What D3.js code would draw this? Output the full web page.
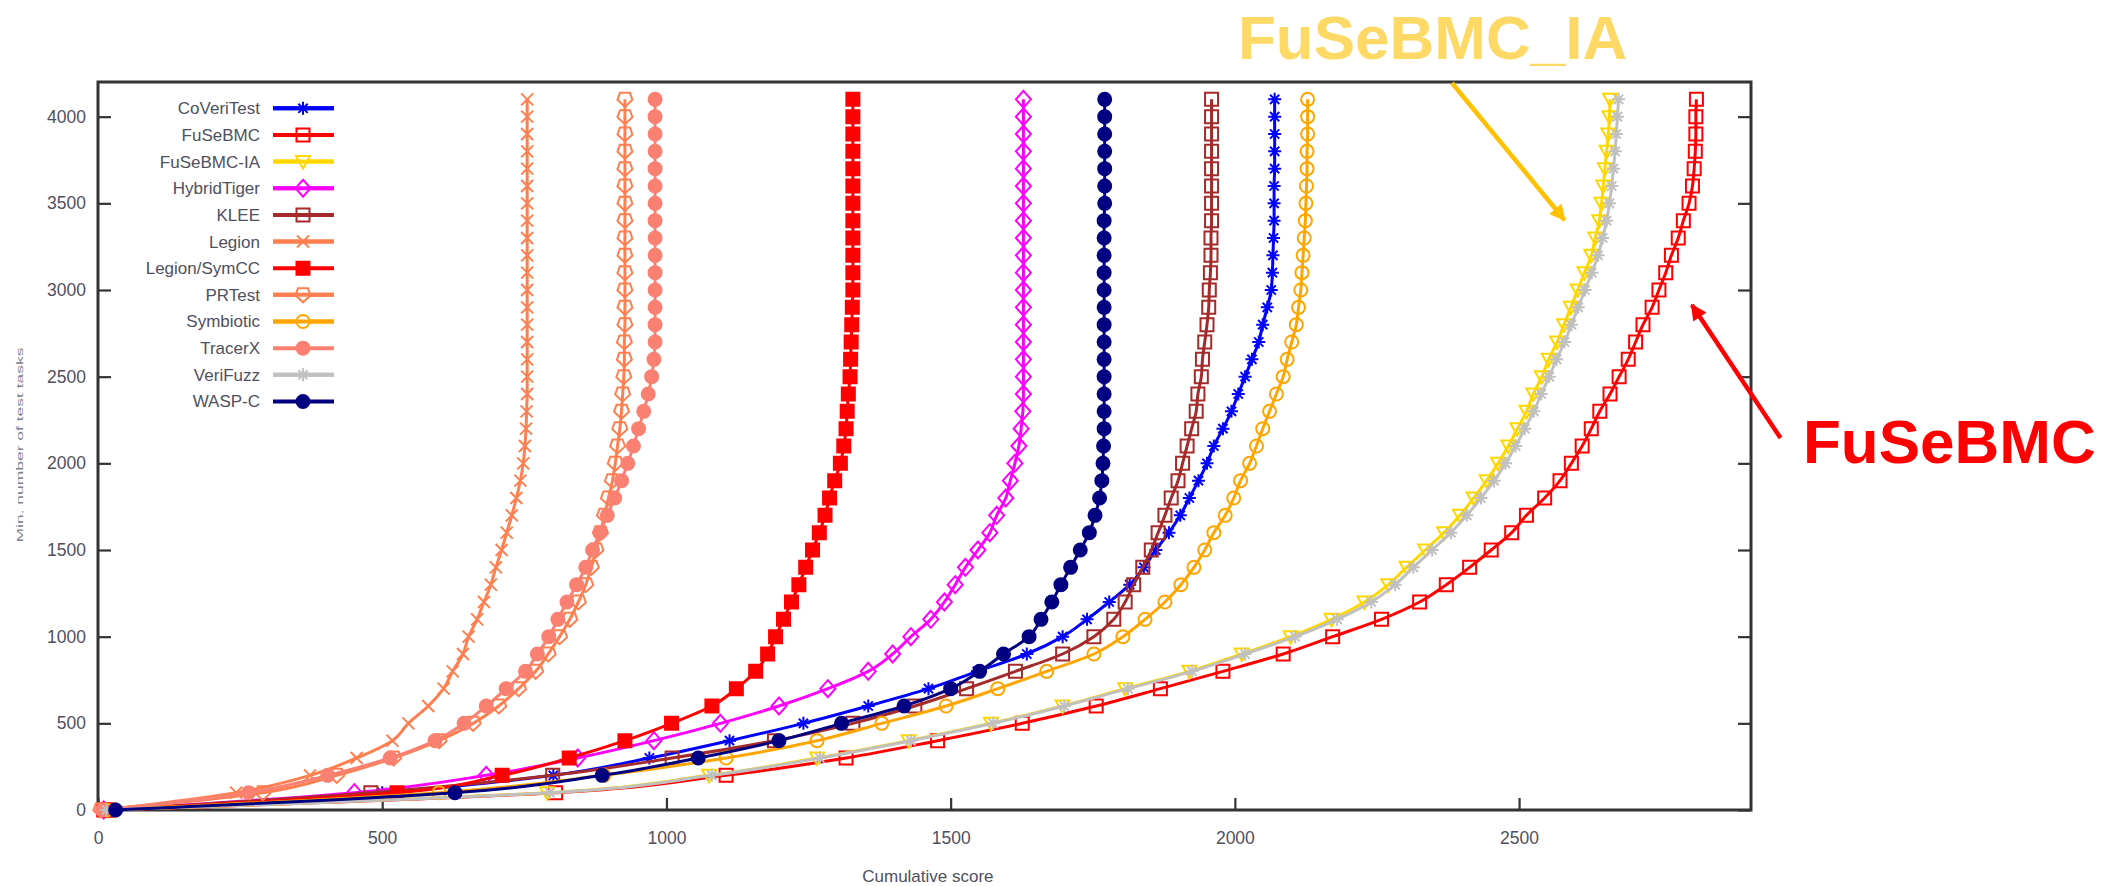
<!DOCTYPE html>
<html>
<head>
<meta charset="utf-8">
<script src="https://cdn.jsdelivr.net/npm/d3@7"></script>
<style>
  body { margin: 0; background: #fff; }
  #chart-area { width: 2108px; height: 886px; }
  text { font-family: "Liberation Sans", Arial, sans-serif; }
</style>
</head>
<body>
<div id="chart-area"></div>
<script>
// y positions of the quantile points (number of test tasks)
const taskCounts = [0, 100, 200, 300, 400, 500, 600, 700, 800, 900, 1000, 1100, 1200, 1300,
  1400, 1500, 1600, 1700, 1800, 1900, 2000, 2100, 2200, 2300, 2400, 2500, 2600, 2700,
  2800, 2900, 3000, 3100, 3200, 3300, 3400, 3500, 3600, 3700, 3800, 3900, 4000, 4100];

const toolNames = ["CoVeriTest", "FuSeBMC", "FuSeBMC-IA", "HybridTiger", "KLEE", "Legion",
  "Legion/SymCC", "PRTest", "Symbiotic", "TracerX", "VeriFuzz", "WASP-C"];

// cumulative score at each task count
const coveriTestScores = [15, 500, 801, 970, 1111, 1241, 1355, 1461, 1547, 1634, 1697, 1740, 1779, 1815,
  1840, 1861, 1884, 1904, 1920, 1936, 1951, 1963, 1979, 1994, 2006, 2018, 2030, 2042,
  2049, 2057, 2064, 2066, 2067, 2068, 2069, 2069, 2069, 2070, 2070, 2070, 2070, 2070];
const fusebmcScores = [20, 805, 1105, 1316, 1477, 1626, 1756, 1869, 1979, 2085, 2172, 2258, 2325, 2372,
  2413, 2451, 2487, 2513, 2545, 2572, 2592, 2611, 2627, 2642, 2660, 2676, 2692, 2705,
  2718, 2734, 2746, 2758, 2768, 2780, 2789, 2799, 2805, 2808, 2810, 2811, 2811, 2812];
const fusebmcIaScores = [15, 790, 1075, 1265, 1426, 1571, 1697, 1807, 1920, 2012, 2098, 2170, 2228, 2270,
  2302, 2335, 2368, 2396, 2420, 2443, 2463, 2481, 2497, 2513, 2525, 2540, 2552, 2567,
  2579, 2591, 2603, 2615, 2627, 2634, 2641, 2645, 2648, 2651, 2654, 2657, 2659, 2660];
const hybridTigerScores = [10, 451, 683, 844, 978, 1095, 1198, 1284, 1355, 1398, 1430, 1465, 1489, 1508,
  1526, 1548, 1569, 1581, 1597, 1605, 1613, 1620, 1624, 1627, 1628, 1628, 1628, 1628,
  1628, 1628, 1628, 1628, 1628, 1628, 1628, 1628, 1628, 1628, 1628, 1628, 1628, 1628];
const kleeScores = [15, 480, 800, 1010, 1190, 1328, 1437, 1528, 1614, 1697, 1752, 1787, 1807, 1822,
  1838, 1853, 1865, 1877, 1888, 1900, 1908, 1916, 1924, 1932, 1935, 1941, 1943, 1947,
  1951, 1954, 1955, 1957, 1958, 1958, 1959, 1959, 1959, 1959, 1959, 1959, 1959, 1959];
const legionScores = [10, 243, 373, 455, 518, 546, 581, 608, 624, 642, 652, 667, 679, 691,
  700, 710, 719, 728, 736, 743, 748, 751, 753, 754, 755, 755, 755, 755,
  755, 755, 755, 755, 755, 755, 755, 755, 755, 755, 755, 755, 755, 755];
const legionSymccScores = [10, 526, 711, 829, 927, 1009, 1080, 1123, 1157, 1178, 1192, 1206, 1220, 1233,
  1245, 1257, 1269, 1279, 1287, 1296, 1306, 1312, 1316, 1318, 1320, 1323, 1324, 1325,
  1326, 1327, 1328, 1328, 1328, 1328, 1328, 1328, 1328, 1328, 1328, 1328, 1328, 1328];
const prtestScores = [5, 290, 420, 520, 600, 660, 705, 740, 770, 792, 812, 830, 845, 858,
  868, 876, 884, 891, 898, 905, 910, 914, 918, 921, 923, 925, 926, 926,
  927, 927, 927, 927, 927, 927, 927, 927, 927, 927, 927, 927, 927, 927];
const symbioticScores = [15, 600, 890, 1105, 1265, 1379, 1492, 1583, 1669, 1752, 1803, 1842, 1877, 1905,
  1928, 1947, 1963, 1983, 1998, 2010, 2026, 2038, 2049, 2061, 2073, 2085, 2092, 2100,
  2108, 2112, 2116, 2118, 2120, 2122, 2124, 2125, 2126, 2127, 2127, 2128, 2128, 2128];
const tracerxScores = [8, 265, 404, 514, 593, 644, 683, 718, 752, 773, 793, 809, 825, 842,
  858, 870, 883, 896, 909, 921, 932, 942, 951, 960, 968, 974, 978, 980,
  980, 980, 980, 980, 980, 980, 980, 980, 980, 980, 980, 980, 980, 980];
const verifuzzScores = [15, 795, 1080, 1270, 1430, 1575, 1700, 1812, 1925, 2018, 2106, 2180, 2240, 2282,
  2314, 2347, 2380, 2408, 2433, 2456, 2476, 2494, 2510, 2526, 2539, 2553, 2566, 2580,
  2592, 2604, 2616, 2628, 2639, 2647, 2654, 2659, 2663, 2666, 2669, 2671, 2673, 2675];
const waspcScores = [31, 628, 887, 1056, 1198, 1308, 1418, 1500, 1551, 1593, 1638, 1659, 1678, 1694,
  1711, 1728, 1744, 1754, 1762, 1766, 1768, 1769, 1770, 1770, 1770, 1770, 1770, 1770,
  1770, 1770, 1770, 1770, 1770, 1770, 1770, 1771, 1771, 1771, 1771, 1771, 1771, 1771];

const toolScores = [coveriTestScores, fusebmcScores, fusebmcIaScores, hybridTigerScores, kleeScores,
  legionScores, legionSymccScores, prtestScores, symbioticScores, tracerxScores, verifuzzScores, waspcScores];

const xTicks = [0, 500, 1000, 1500, 2000, 2500];
const yTicks = [0, 500, 1000, 1500, 2000, 2500, 3000, 3500, 4000];

// gnuplot-like line colours and point types
const toolColors = ["#0000ff", "#ff0000", "#ffd700", "#ff00ff", "#a52a2a", "#ff7f50",
  "#ff0000", "#ff7f50", "#ffa500", "#fa8072", "#c0c0c0", "#000080"];
const toolShapes = ["asterisk", "square", "triangleDown", "diamond", "square", "cross",
  "squareFilled", "pentagon", "circle", "circleFilled", "asterisk", "circleFilled"];

// path for one point marker, centred at 0,0
function markerPath(shape) {
  switch (shape) {
    case "square":
    case "squareFilled":
      return "M-6.5,-6.5H6.5V6.5H-6.5Z";
    case "circle":
    case "circleFilled":
      return "M6.5,0A6.5,6.5 0 1,1 -6.5,0A6.5,6.5 0 1,1 6.5,0Z";
    case "triangleDown":
      return "M-7,-5.5H7L0,7Z";
    case "diamond":
      return "M0,-8.5L7.5,0L0,8.5L-7.5,0Z";
    case "pentagon":
      return "M-5,-6.5H5L7.5,0.5L0,7.5L-7.5,0.5Z";
    case "cross":
      return "M-6,-6L6,6M-6,6L6,-6";
    case "asterisk":
      return "M-6.5,0H6.5M0,-6.5V6.5M-4.6,-4.6L4.6,4.6M-4.6,4.6L4.6,-4.6";
  }
}

class QuantileChart {
  constructor(parentElement) {
    this.parentElement = parentElement;
    this.initViz();
  }

  initViz() {
    let viz = this;

    viz.margin = { top: 82, right: 357, bottom: 76, left: 98 };
    viz.width = 2108 - viz.margin.left - viz.margin.right;
    viz.height = 886 - viz.margin.top - viz.margin.bottom;

    viz.root = d3.select("#" + viz.parentElement)
      .append("svg")
      .attr("width", 2108)
      .attr("height", 886)
      .style("background", "#fff");

    viz.svg = viz.root.append("g")
      .attr("transform", `translate(${viz.margin.left},${viz.margin.top})`);

    viz.x = d3.scaleLinear().domain([0, 2908]).range([0, viz.width]);
    viz.y = d3.scaleLinear().domain([0, 4200]).range([viz.height, 0]);

    // axes (ticks point into the plot), plain integer labels
    let fmt = d3.format("d");

    let xAxis = viz.svg.append("g")
      .attr("class", "x-axis")
      .attr("transform", `translate(0,${viz.height})`)
      .call(d3.axisBottom(viz.x).tickValues(xTicks).tickFormat(fmt).tickSize(-12).tickPadding(22));

    let yAxis = viz.svg.append("g")
      .attr("class", "y-axis")
      .call(d3.axisLeft(viz.y).tickValues(yTicks).tickFormat(fmt).tickSize(-13).tickPadding(12));

    let yAxisRight = viz.svg.append("g")
      .attr("class", "y-axis-right")
      .attr("transform", `translate(${viz.width},0)`)
      .call(d3.axisRight(viz.y).tickValues(yTicks).tickSize(-13).tickFormat(""));

    [xAxis, yAxis, yAxisRight].forEach((g) => {
      g.select(".domain").remove();
      g.selectAll(".tick line").attr("stroke", "#333").attr("stroke-width", 2.2);
      g.selectAll(".tick text")
        .attr("fill", "#505060")
        .style("font-size", "17.5px");
    });

    // plot frame
    viz.svg.append("rect")
      .attr("width", viz.width)
      .attr("height", viz.height)
      .attr("fill", "none")
      .attr("stroke", "#333")
      .attr("stroke-width", 3);

    // axis titles
    viz.svg.append("text")
      .attr("x", viz.x(1460))
      .attr("y", viz.height + 72)
      .attr("text-anchor", "middle")
      .attr("fill", "#505060")
      .style("font-size", "17px")
      .text("Cumulative score");

    viz.root.append("text")
      .attr("transform", "translate(23,445) rotate(-90)")
      .attr("text-anchor", "middle")
      .attr("fill", "#7a8090")
      .attr("textLength", 195)
      .attr("lengthAdjust", "spacingAndGlyphs")
      .style("font-size", "8.5px")
      .text("Min. number of test tasks");

    viz.line = d3.line()
      .x((d) => viz.x(d.score))
      .y((d) => viz.y(d.tasks))
      .curve(d3.curveMonotoneY);

    viz.wrangleData();
  }

  wrangleData() {
    let viz = this;

    viz.series = toolNames.map((name, i) => ({
      name: name,
      color: toolColors[i],
      shape: toolShapes[i],
      values: taskCounts.map((t, j) => ({ tasks: t, score: toolScores[i][j] }))
    }));

    viz.updateViz();
  }

  updateViz() {
    let viz = this;

    // each tool is drawn in turn, line then points (gnuplot order)
    let groups = viz.svg.selectAll(".tool")
      .data(viz.series)
      .enter()
      .append("g")
      .attr("class", "tool");

    groups.append("path")
      .attr("d", (d) => viz.line(d.values))
      .attr("fill", "none")
      .attr("stroke", (d) => d.color)
      .attr("stroke-width", 3);

    groups.each(function (s) {
      d3.select(this).selectAll(".pt")
        .data(s.values)
        .enter()
        .append("path")
        .attr("class", "pt")
        .attr("transform", (d) => `translate(${viz.x(d.score)},${viz.y(d.tasks)})`)
        .attr("d", markerPath(s.shape))
        .attr("fill", s.shape.endsWith("Filled") ? s.color : "none")
        .attr("stroke", s.color)
        .attr("stroke-width", 2);
    });

    // legend, top left inside the frame
    let legend = viz.root.append("g").attr("class", "legend");
    let rows = legend.selectAll("g")
      .data(viz.series)
      .enter()
      .append("g")
      .attr("transform", (d, i) => `translate(0,${108.3 + i * 26.65})`);

    rows.append("text")
      .attr("x", 260)
      .attr("dy", "0.35em")
      .attr("text-anchor", "end")
      .attr("fill", "#505060")
      .style("font-size", "17px")
      .text((d) => d.name);

    rows.append("line")
      .attr("x1", 273)
      .attr("x2", 334)
      .attr("stroke", (d) => d.color)
      .attr("stroke-width", 4);

    rows.append("path")
      .attr("transform", "translate(303,0)")
      .attr("d", (d) => markerPath(d.shape))
      .attr("fill", (d) => (d.shape.endsWith("Filled") ? d.color : "#fff"))
      .attr("stroke", (d) => d.color)
      .attr("stroke-width", 2);

    // redraw the line over the open markers, like gnuplot's key
    rows.filter((d) => !d.shape.endsWith("Filled"))
      .append("line")
      .attr("x1", 273)
      .attr("x2", 334)
      .attr("stroke", (d) => d.color)
      .attr("stroke-width", 4);

    viz.drawAnnotations();
  }

  drawAnnotations() {
    let viz = this;
    let defs = viz.root.append("defs");

    [["gold-head", "#ffc000"], ["red-head", "#ff0000"]].forEach(([id, color]) => {
      defs.append("marker")
        .attr("id", id)
        .attr("viewBox", "0 0 10 10")
        .attr("refX", 9)
        .attr("refY", 5)
        .attr("markerUnits", "userSpaceOnUse")
        .attr("markerWidth", 22)
        .attr("markerHeight", 16)
        .attr("orient", "auto")
        .append("path")
        .attr("d", "M0,0L10,5L0,10Z")
        .attr("fill", color);
    });

    // gold arrow to FuSeBMC-IA
    viz.svg.append("line")
      .attr("x1", viz.x(2382)).attr("y1", viz.y(4194))
      .attr("x2", viz.x(2580)).attr("y2", viz.y(3404))
      .attr("stroke", "#ffc000")
      .attr("stroke-width", 4.5)
      .attr("marker-end", "url(#gold-head)");

    // red arrow to FuSeBMC
    viz.svg.append("line")
      .attr("x1", viz.x(2960)).attr("y1", viz.y(2146))
      .attr("x2", viz.x(2804)).attr("y2", viz.y(2913))
      .attr("stroke", "#ff0000")
      .attr("stroke-width", 4.5)
      .attr("marker-end", "url(#red-head)");

    viz.root.append("text")
      .attr("x", 1238)
      .attr("y", 59)
      .attr("fill", "#ffd966")
      .style("font-size", "62px")
      .style("font-weight", "bold")
      .text("FuSeBMC_IA");

    viz.root.append("text")
      .attr("x", 1803)
      .attr("y", 463)
      .attr("fill", "#ff0000")
      .style("font-size", "62px")
      .style("font-weight", "bold")
      .text("FuSeBMC");
  }
}

new QuantileChart("chart-area");
</script>
</body>
</html>
